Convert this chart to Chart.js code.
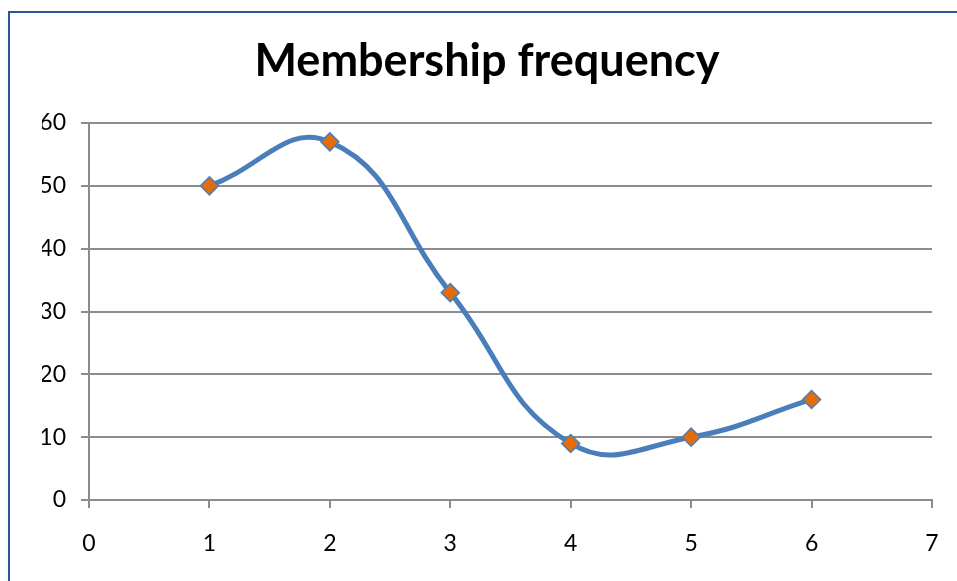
<!DOCTYPE html>
<html>
<head>
<meta charset="utf-8">
<script src="https://cdn.jsdelivr.net/npm/chart.js@4"></script>
<style>
  html, body { margin: 0; padding: 0; background: #fff; overflow: hidden; }
  #wrap { position: relative; width: 957px; height: 581px; }
  #frame { position: absolute; left: 8px; top: 11px; width: 1000px; height: 700px;
           border: 2px solid #2c5597; box-sizing: border-box; }
  canvas { position: absolute; left: 0; top: 0; }
</style>
</head>
<body>
<div id="wrap">
  <div id="frame"></div>
  <canvas id="chart" width="957" height="581"></canvas>
</div>
<script>
// Membership frequency : courbe lissée, axe x linéaire 0..7
const TITLE = 'Membership frequency';
const xValues = [1, 2, 3, 4, 5, 6];
const frequency = [50, 57, 33, 9, 10, 16];
const X_MIN = 0, X_MAX = 7;
const Y_MIN = 0, Y_MAX = 60, Y_STEP = 10;

const FONT = 'Lato, "Open Sans", sans-serif';
const GRID = '#8c8c8c';

new Chart(document.getElementById('chart').getContext('2d'), {
    type: 'line',
    data: {
        datasets: [{
            data: xValues.map((x, i) => ({ x, y: frequency[i] })),
            borderColor: '#4a7ebb', borderWidth: 5, tension: 0.45,
            pointStyle: 'rectRot', pointRadius: 9, pointHoverRadius: 9,
            pointBackgroundColor: '#e46c0a', pointBorderColor: '#4a7ebb', pointBorderWidth: 1.5,
            fill: false
        }]
    },
    options: {
        responsive: false, animation: false,
        layout: { padding: { left: 42, right: 25, top: 0, bottom: 0 } },
        plugins: {
            legend: { display: false },
            tooltip: { enabled: false },
            title: {
                display: true, text: TITLE, color: '#000',
                font: { family: FONT, size: 45, weight: 'bold' },
                padding: { top: 34, bottom: 35 }
            }
        },
        scales: {
            x: {
                type: 'linear', min: X_MIN, max: X_MAX,
                ticks: { stepSize: 1, color: '#000', font: { family: FONT, size: 23 }, padding: 22 },
                grid: { drawOnChartArea: false, drawTicks: true, tickLength: 8, color: GRID, lineWidth: 2 },
                border: { color: GRID, width: 2 },
                afterFit: s => { s.height = 81; s.paddingLeft = 0; s.paddingRight = 0; }
            },
            y: {
                min: Y_MIN, max: Y_MAX,
                ticks: { stepSize: Y_STEP, color: '#000', font: { family: FONT, size: 23 }, padding: 15 },
                grid: { color: GRID, lineWidth: 2, tickLength: 8 },
                border: { color: GRID, width: 2 },
                afterFit: s => { s.width = 47; }
            }
        }
    }
});
</script>
</body>
</html>
